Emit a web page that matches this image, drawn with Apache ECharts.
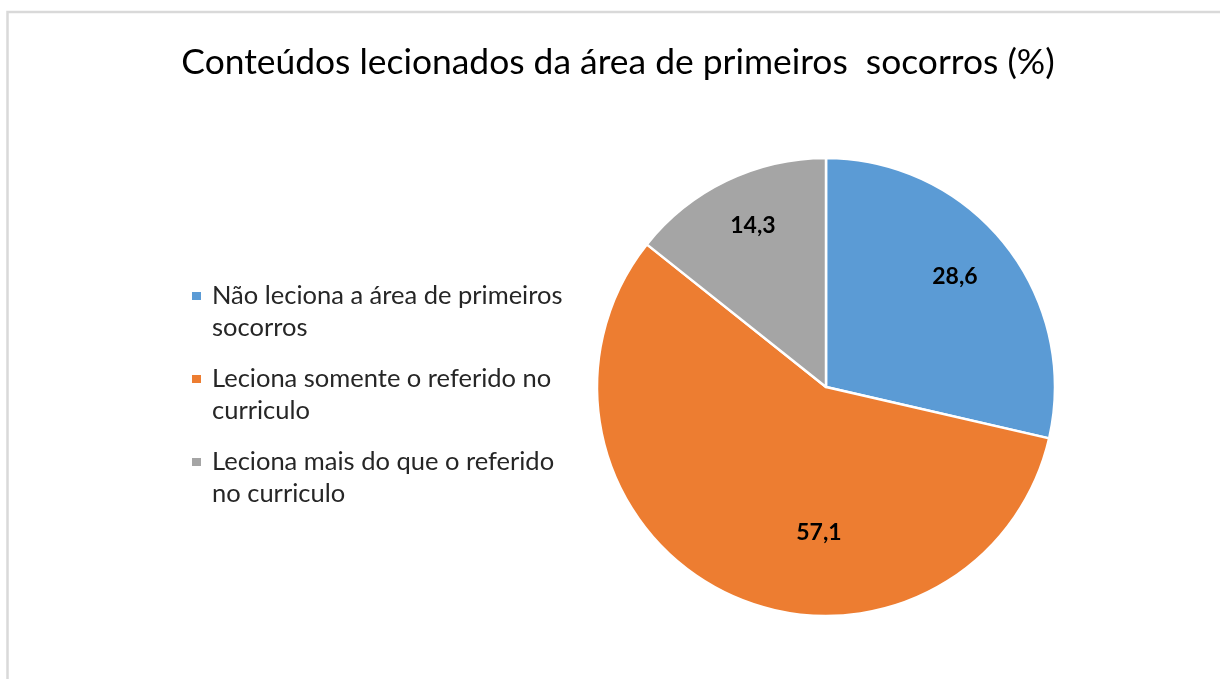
<!DOCTYPE html>
<html>
<head>
<meta charset="utf-8">
<script src="https://cdn.jsdelivr.net/npm/echarts@6/dist/echarts.min.js"></script>
<style>
  html, body { margin: 0; padding: 0; background: #fff; }
  #chart { width: 1220px; height: 679px; }
</style>
</head>
<body>
<div id="chart"></div>
<script>
const titleText = 'Conteúdos lecionados da área de primeiros  socorros (%)';
const categories = [
  'Não leciona a área de primeiros socorros',
  'Leciona somente o referido no curriculo',
  'Leciona mais do que o referido no curriculo'
];
const legendLines = [
  ['Não leciona a área de primeiros', 'socorros'],
  ['Leciona somente o referido no', 'curriculo'],
  ['Leciona mais do que o referido', 'no curriculo']
];
const values = [28.6, 57.1, 14.3];
const valueLabels = ['28,6', '57,1', '14,3'];
const colors = ['#5B9BD5', '#ED7D31', '#A5A5A5'];
const labelNudge = [[37, -37], [44, 40], [-22, -56]];

const FONT = 'Lato, "Open Sans", sans-serif';

const chart = echarts.init(document.getElementById('chart'), null, { renderer: 'canvas' });

const LH = 32;
const rich = {
  t: { fontSize: 25.5, fontFamily: FONT, color: '#262626', lineHeight: LH },
  g: { width: 11, height: 9, lineHeight: LH },
  ind: { width: 20, height: 9, lineHeight: LH }
};
colors.forEach((c, i) => {
  rich['m' + i] = { width: 9, height: 8, backgroundColor: c, lineHeight: LH };
});

const option = {
  backgroundColor: '#ffffff',
  animation: false,
  color: colors,
  title: {
    text: titleText,
    left: 613,
    textAlign: 'center',
    top: 40,
    textStyle: { fontFamily: FONT, fontSize: 35.4, fontWeight: 'normal', color: '#000' }
  },
  graphic: [{
    type: 'rect',
    shape: { x: 7.5, y: 12, width: 1400, height: 900 },
    style: { fill: 'none', stroke: '#d9d9d9', lineWidth: 2.5 },
    silent: true
  }],
  legend: {
    orient: 'vertical',
    left: 192,
    top: 280,
    padding: 0,
    icon: 'none',
    itemWidth: 0,
    itemHeight: 9,
    itemGap: 19,
    selectedMode: false,
    data: categories,
    formatter: function (name) {
      const i = categories.indexOf(name);
      const l = legendLines[i];
      return '{m' + i + '|}{g|}{t|' + l[0] + '}\n{ind|}{t|' + l[1] + '}';
    },
    textStyle: { rich: rich, fontFamily: FONT, fontSize: 25.5, lineHeight: LH, color: '#262626', padding: [0, 0, 0, -5] }
  },
  series: [{
    type: 'pie',
    center: [826, 387],
    radius: [0, 229],
    startAngle: 90,
    clockwise: true,
    avoidLabelOverlap: false,
    itemStyle: { borderColor: '#ffffff', borderWidth: 2.5 },
    label: {
      show: true,
      position: 'inside',
      fontFamily: FONT,
      fontSize: 23,
      fontWeight: 'bold',
      color: '#000'
    },
    labelLine: { show: false },
    emphasis: { disabled: true },
    data: categories.map((name, i) => ({
      name: name,
      value: values[i],
      label: { formatter: valueLabels[i], offset: labelNudge[i] }
    }))
  }]
};
chart.setOption(option);
</script>
</body>
</html>
